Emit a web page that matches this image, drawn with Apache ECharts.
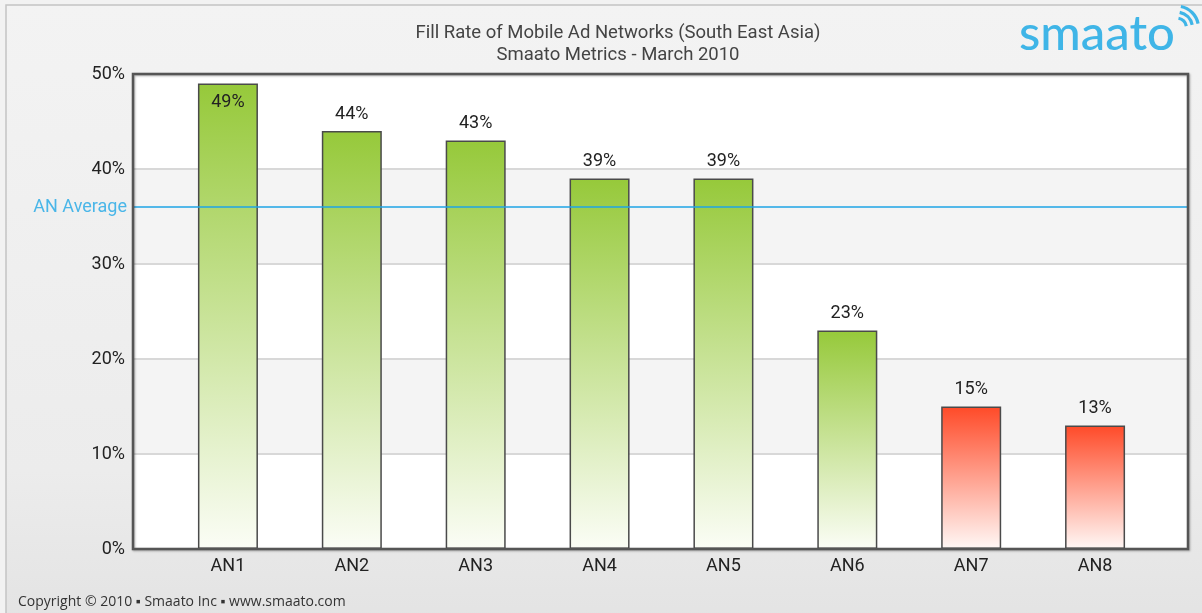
<!DOCTYPE html>
<html>
<head>
<meta charset="utf-8">
<script src="https://cdn.jsdelivr.net/npm/echarts@6/dist/echarts.min.js"></script>
<style>
  html, body { margin: 0; padding: 0; background: #f2f2f2; }
  #chart { width: 1202px; height: 613px; }
</style>
</head>
<body>
<div id="chart"></div>
<script>
// data
const categories = ['AN1', 'AN2', 'AN3', 'AN4', 'AN5', 'AN6', 'AN7', 'AN8']
const fillRate = [49, 44, 43, 39, 39, 23, 15, 13]
const lowFlags = [false, false, false, false, false, false, true, true]
const averageValue = 36
const yTicks = [0, 10, 20, 30, 40, 50]

const chart = echarts.init(document.getElementById('chart'))

const FONT = 'Roboto'
const greenFill = new echarts.graphic.LinearGradient(0, 0, 0, 1, [
  { offset: 0, color: '#96c93a' },
  { offset: 1, color: '#fbfdf6' },
])
const redFill = new echarts.graphic.LinearGradient(0, 0, 0, 1, [
  { offset: 0, color: '#ff4a28' },
  { offset: 1, color: '#fff8f6' },
])

const barData = fillRate.map((v, i) => ({
  value: v,
  itemStyle: { color: lowFlags[i] ? redFill : greenFill },
  // the tallest bar keeps its label inside
  label: i === 0 ? { position: 'insideTop', distance: 10 } : undefined,
}))

// plot frame: same box as grid 0
const PLOT = { left: 133, top: 74, right: 1188, bottom: 549 }

const option = {
  backgroundColor: 'transparent',
  animation: false,
  graphic: [
    {
      type: 'rect',
      z: -10,
      shape: { x: 6, y: 5, width: 1210, height: 620 },
      style: {
        fill: new echarts.graphic.LinearGradient(0, 0, 0, 1, [
          { offset: 0, color: '#f3f3f3' },
          { offset: 0.75, color: '#ececec' },
          { offset: 1, color: '#e3e3e3' },
        ]),
        stroke: '#c4c4c4',
        lineWidth: 1.5,
      },
    },
    {
      type: 'rect',
      z: 50,
      silent: true,
      shape: { x: PLOT.left, y: PLOT.top, width: PLOT.right - PLOT.left, height: PLOT.bottom - PLOT.top },
      style: {
        fill: null,
        stroke: '#555',
        lineWidth: 2.5,
        shadowColor: 'rgba(0,0,0,0.3)',
        shadowBlur: 2,
        shadowOffsetX: 1,
        shadowOffsetY: 1,
      },
    },
    {
      type: 'text',
      left: 1019,
      top: 10,
      style: { text: 'smaato', fill: '#3fb5e7', font: '500 49px Lato' },
    },
    {
      type: 'group',
      left: 1176,
      top: 4,
      children: [1, 2, 3].map((k) => ({
        type: 'arc',
        shape: { cx: 0, cy: 24, r: 4 + k * 6, startAngle: -Math.PI / 2 + 0.2, endAngle: -0.2 },
        style: { stroke: '#3fb5e7', lineWidth: 3.2, fill: null },
      })),
    },
    {
      type: 'text',
      left: 18,
      top: 595,
      style: { text: 'Copyright © 2010 ▪ Smaato Inc ▪ www.smaato.com', fill: '#333', font: '14px "Open Sans"' },
    },
  ],
  title: {
    text: 'Fill Rate of Mobile Ad Networks (South East Asia)\nSmaato Metrics - March 2010',
    left: 613,
    top: 17,
    textAlign: 'center',
    textStyle: { fontFamily: FONT, fontWeight: 'normal', fontSize: 18.5, color: '#444', lineHeight: 22 },
  },
  grid: [
    { left: PLOT.left, right: 1202 - PLOT.right, top: PLOT.top, bottom: 613 - PLOT.bottom, show: true, borderWidth: 0, backgroundColor: '#fff' },
    { left: 166, right: 45, top: PLOT.top, bottom: 613 - PLOT.bottom },
  ],
  xAxis: [
    { gridIndex: 0, type: 'category', data: categories, show: false },
    {
      gridIndex: 1,
      type: 'category',
      data: categories,
      axisLine: { show: false },
      axisTick: { show: false },
      axisLabel: { color: '#222', fontSize: 18, fontFamily: FONT, margin: 8 },
    },
  ],
  yAxis: [
    {
      gridIndex: 0,
      type: 'value',
      min: 0,
      max: 50,
      interval: 10,
      axisLine: { show: false },
      axisTick: { show: false },
      axisLabel: {
        color: '#222',
        fontSize: 18,
        fontFamily: FONT,
        margin: 8,
        formatter: (v) => (yTicks.includes(v) ? v + '%' : ''),
      },
      splitLine: { lineStyle: { color: '#d8d8d8', width: 2 } },
      splitArea: { show: true, areaStyle: { color: ['#ffffff', '#f4f4f4'] } },
    },
    { gridIndex: 1, type: 'value', min: 0, max: 50, interval: 10, show: false, splitLine: { show: false } },
  ],
  series: [
    {
      name: 'average',
      type: 'line',
      xAxisIndex: 0,
      yAxisIndex: 0,
      data: [],
      color: '#1ea5e6',
      markLine: {
        silent: true,
        symbol: 'none',
        lineStyle: { color: '#1ea5e6', width: 1.5, type: 'solid', opacity: 1 },
        label: { position: 'start', formatter: 'AN Average', color: '#4ab6e8', fontSize: 18, fontFamily: FONT, distance: 6 },
        data: [{ yAxis: averageValue, lineStyle: { color: '#1ea5e6', width: 1.5, type: 'solid' } }],
      },
    },
    {
      name: 'Fill Rate',
      type: 'bar',
      xAxisIndex: 1,
      yAxisIndex: 1,
      barWidth: 60,
      z: 3,
      itemStyle: { borderColor: '#4a4a4a', borderWidth: 1.5 },
      label: {
        show: true,
        position: 'top',
        distance: 8,
        formatter: '{c}%',
        color: '#222',
        fontSize: 18,
        fontFamily: FONT,
      },
      data: barData,
    },
  ],
}

chart.setOption(option)
window.addEventListener('resize', () => chart.resize())
</script>
</body>
</html>
